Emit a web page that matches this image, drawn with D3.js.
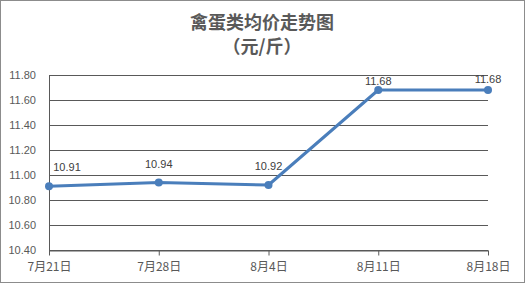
<!DOCTYPE html>
<html>
<head>
<meta charset="utf-8">
<script src="https://cdn.jsdelivr.net/npm/d3@7"></script>
<style>
  body { margin: 0; background: #fff; }
  svg { display: block; font-family: "Microsoft YaHei", "Noto Sans CJK SC", sans-serif; }
</style>
</head>
<body>
<div id="app"></div>
<script>
// data
const dates = ['7月21日', '7月28日', '8月4日', '8月11日', '8月18日']
const prices = [10.91, 10.94, 10.92, 11.68, 11.68]
const yTicks = [10.40, 10.60, 10.80, 11.00, 11.20, 11.40, 11.60, 11.80]

const width = 525, height = 283
const svg = d3.select('#app').append('svg').attr('width', width).attr('height', height)

svg.append('rect')
  .attr('x', 0.5).attr('y', 0.5)
  .attr('width', width - 1).attr('height', height - 1)
  .attr('fill', '#fff').attr('stroke', '#8c8c8c')

// title
svg.append('text').attr('x', 262).attr('y', 29)
  .attr('text-anchor', 'middle').attr('font-size', 18).attr('font-weight', 'bold')
  .attr('fill', '#595959').text('禽蛋类均价走势图')
svg.append('text').attr('x', 262).attr('y', 53)
  .attr('text-anchor', 'middle').attr('font-size', 18).attr('font-weight', 'bold')
  .attr('fill', '#595959').text('（元/斤）')

const x = d3.scalePoint().domain(dates).range([49, 488])
const y = d3.scaleLinear().domain([10.4, 11.8]).range([250, 75])

// gridlines
svg.append('g').selectAll('line').data(yTicks).enter().append('line')
  .attr('x1', 49).attr('x2', 488)
  .attr('y1', d => Math.round(y(d)) + 0.5).attr('y2', d => Math.round(y(d)) + 0.5)
  .attr('stroke', '#595959').attr('stroke-width', 1)

// y axis
svg.append('line').attr('x1', 49.5).attr('x2', 49.5).attr('y1', y(11.8)).attr('y2', y(10.4))
  .attr('stroke', '#595959')
svg.append('g').selectAll('text').data(yTicks).enter().append('text')
  .attr('x', 36).attr('y', d => y(d) + 4)
  .attr('text-anchor', 'end').attr('font-size', 11).attr('fill', '#595959')
  .attr('font-family', 'Liberation Sans, Arial, sans-serif')
  .text(d => d.toFixed(2))

// x axis
const xAxis = svg.append('g').attr('transform', `translate(0,${Math.round(y(10.4)) + 0.5})`)
  .call(d3.axisBottom(x).tickSize(5).tickSizeOuter(0))
xAxis.select('.domain').attr('stroke', '#595959')
xAxis.selectAll('.tick line').attr('stroke', '#595959')
xAxis.selectAll('.tick text').attr('fill', '#595959').attr('font-size', 12).attr('dy', '1em')
  .attr('font-family', '"Microsoft YaHei", "Noto Sans CJK SC", sans-serif')

// line
const pts = dates.map((d, i) => ({ date: d, v: prices[i] }))
svg.append('path').datum(pts)
  .attr('fill', 'none').attr('stroke', '#4a7ebb').attr('stroke-width', 3)
  .attr('stroke-linejoin', 'round')
  .attr('d', d3.line().x(d => x(d.date)).y(d => y(d.v)))

svg.append('g').selectAll('circle').data(pts).enter().append('circle')
  .attr('cx', d => x(d.date)).attr('cy', d => y(d.v)).attr('r', 4)
  .attr('fill', '#4a7ebb')

// data labels (Excel pushes the top ones down to stay inside the plot)
svg.append('g').selectAll('text').data(pts).enter().append('text')
  .attr('x', (d, i) => i === 0 ? x(d.date) + 18 : x(d.date))
  .attr('y', (d, i) => i === pts.length - 1 ? 83 : Math.max(y(d.v) - 15, 85))
  .attr('text-anchor', 'middle').attr('font-size', 11).attr('fill', '#404040')
  .attr('font-family', 'Liberation Sans, Arial, sans-serif')
  .text(d => d.v.toFixed(2))
</script>
</body>
</html>
